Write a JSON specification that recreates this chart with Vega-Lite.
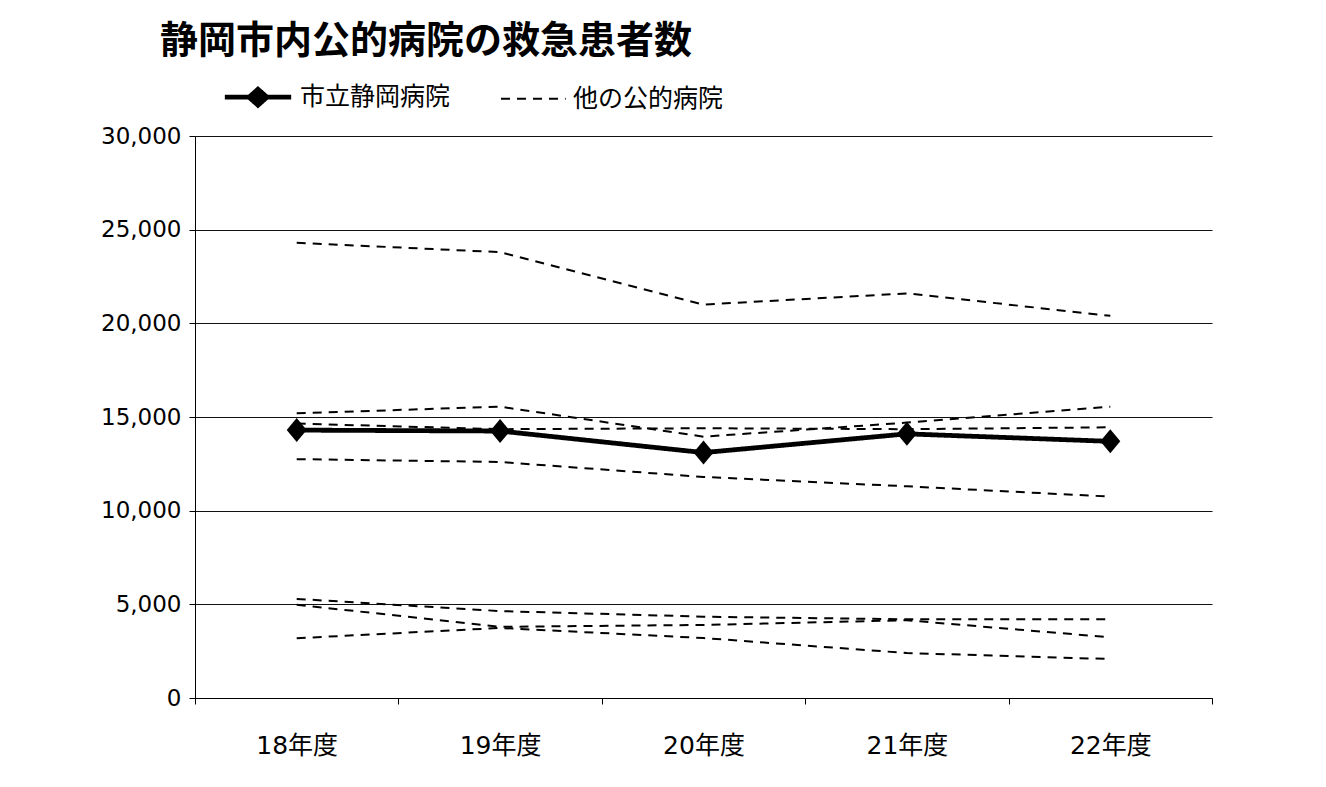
{
  "$schema": "https://vega.github.io/schema/vega-lite/v6.json",
  "width": 1017,
  "height": 562,
  "autosize": "none",
  "padding": {"left": 195, "top": 136, "right": 114, "bottom": 89},
  "background": "white",
  "title": {
    "text": "静岡市内公的病院の救急患者数",
    "anchor": "start",
    "frame": "group",
    "dx": -35,
    "offset": 0,
    "font": "Noto Sans CJK JP",
    "fontSize": 38,
    "fontWeight": "bold",
    "color": "black"
  },
  "config": {
    "view": {"stroke": null},
    "axis": {"labelColor": "black", "domainColor": "black", "tickColor": "black"}
  },
  "data": {
    "values": [
      {"year": "18年度", "hospital": "市立静岡病院", "type": "市立静岡病院", "value": 14300},
      {"year": "19年度", "hospital": "市立静岡病院", "type": "市立静岡病院", "value": 14250},
      {"year": "20年度", "hospital": "市立静岡病院", "type": "市立静岡病院", "value": 13100},
      {"year": "21年度", "hospital": "市立静岡病院", "type": "市立静岡病院", "value": 14100},
      {"year": "22年度", "hospital": "市立静岡病院", "type": "市立静岡病院", "value": 13700},
      {"year": "18年度", "hospital": "他1", "type": "他の公的病院", "value": 24300},
      {"year": "19年度", "hospital": "他1", "type": "他の公的病院", "value": 23800},
      {"year": "20年度", "hospital": "他1", "type": "他の公的病院", "value": 21000},
      {"year": "21年度", "hospital": "他1", "type": "他の公的病院", "value": 21600},
      {"year": "22年度", "hospital": "他1", "type": "他の公的病院", "value": 20400},
      {"year": "18年度", "hospital": "他2", "type": "他の公的病院", "value": 15200},
      {"year": "19年度", "hospital": "他2", "type": "他の公的病院", "value": 15550},
      {"year": "20年度", "hospital": "他2", "type": "他の公的病院", "value": 13950},
      {"year": "21年度", "hospital": "他2", "type": "他の公的病院", "value": 14700},
      {"year": "22年度", "hospital": "他2", "type": "他の公的病院", "value": 15550},
      {"year": "18年度", "hospital": "他3", "type": "他の公的病院", "value": 14650},
      {"year": "19年度", "hospital": "他3", "type": "他の公的病院", "value": 14350},
      {"year": "20年度", "hospital": "他3", "type": "他の公的病院", "value": 14400},
      {"year": "21年度", "hospital": "他3", "type": "他の公的病院", "value": 14350},
      {"year": "22年度", "hospital": "他3", "type": "他の公的病院", "value": 14450},
      {"year": "18年度", "hospital": "他4", "type": "他の公的病院", "value": 12750},
      {"year": "19年度", "hospital": "他4", "type": "他の公的病院", "value": 12600},
      {"year": "20年度", "hospital": "他4", "type": "他の公的病院", "value": 11800},
      {"year": "21年度", "hospital": "他4", "type": "他の公的病院", "value": 11300},
      {"year": "22年度", "hospital": "他4", "type": "他の公的病院", "value": 10750},
      {"year": "18年度", "hospital": "他5", "type": "他の公的病院", "value": 5290},
      {"year": "19年度", "hospital": "他5", "type": "他の公的病院", "value": 4640},
      {"year": "20年度", "hospital": "他5", "type": "他の公的病院", "value": 4340},
      {"year": "21年度", "hospital": "他5", "type": "他の公的病院", "value": 4200},
      {"year": "22年度", "hospital": "他5", "type": "他の公的病院", "value": 4200},
      {"year": "18年度", "hospital": "他6", "type": "他の公的病院", "value": 4980},
      {"year": "19年度", "hospital": "他6", "type": "他の公的病院", "value": 3800},
      {"year": "20年度", "hospital": "他6", "type": "他の公的病院", "value": 3900},
      {"year": "21年度", "hospital": "他6", "type": "他の公的病院", "value": 4150},
      {"year": "22年度", "hospital": "他6", "type": "他の公的病院", "value": 3240},
      {"year": "18年度", "hospital": "他7", "type": "他の公的病院", "value": 3190},
      {"year": "19年度", "hospital": "他7", "type": "他の公的病院", "value": 3740},
      {"year": "20年度", "hospital": "他7", "type": "他の公的病院", "value": 3200},
      {"year": "21年度", "hospital": "他7", "type": "他の公的病院", "value": 2400},
      {"year": "22年度", "hospital": "他7", "type": "他の公的病院", "value": 2080}
    ]
  },
  "encoding": {
    "x": {
      "field": "year",
      "type": "ordinal",
      "sort": ["18年度", "19年度", "20年度", "21年度", "22年度"],
      "scale": {"type": "band", "paddingInner": 0, "paddingOuter": 0},
      "axis": {
        "title": null,
        "labelAngle": 0,
        "labelFont": "DejaVu Sans, Noto Sans CJK JP",
        "labelFontSize": 25,
        "labelPadding": 29,
        "tickBand": "extent",
        "tickSize": 6,
        "domainWidth": 1,
        "grid": false
      }
    },
    "y": {
      "field": "value",
      "type": "quantitative",
      "scale": {"domain": [0, 30000]},
      "axis": {
        "title": null,
        "values": [0, 5000, 10000, 15000, 20000, 25000, 30000],
        "format": ",d",
        "labelFont": "DejaVu Sans",
        "labelFontSize": 23,
        "labelPadding": 8,
        "tickSize": 6,
        "grid": true,
        "gridColor": "#111",
        "gridWidth": 1,
        "gridOpacity": 1,
        "domainWidth": 1
      }
    }
  },
  "layer": [
    {
      "mark": {"type": "line", "color": "black"},
      "encoding": {
        "detail": {"field": "hospital"},
        "strokeDash": {
          "field": "type",
          "type": "nominal",
          "scale": {"domain": ["市立静岡病院", "他の公的病院"], "range": [[1, 0], [9, 7]]},
          "legend": {
            "title": null,
            "orient": "none",
            "legendX": 27,
            "legendY": -75,
            "direction": "horizontal",
            "labelFont": "Noto Sans CJK JP",
            "labelFontSize": 25,
            "labelColor": "black",
            "labelOffset": 6,
            "labelLimit": 400,
            "columnPadding": 45,
            "symbolType": "stroke",
            "symbolSize": 4400,
            "symbolStrokeColor": "black",
            "symbolStrokeWidth": 2,
            "encode": {
              "symbols": {
                "update": {
                  "shape": [
                    {"test": "datum.value === '市立静岡病院'", "value": "M-1,0L1,0M0,-0.24L0.27,0L0,0.24L-0.27,0Z"},
                    {"value": "M-0.95,0L1,0"}
                  ],
                  "fill": [
                    {"test": "datum.value === '市立静岡病院'", "value": "black"},
                    {"value": "transparent"}
                  ],
                  "stroke": {"value": "black"},
                  "strokeDash": [
                    {"test": "datum.value === '市立静岡病院'", "value": []},
                    {"value": [9, 7]}
                  ],
                  "strokeWidth": [
                    {"test": "datum.value === '市立静岡病院'", "value": 4},
                    {"value": 2}
                  ],
                  "opacity": {"value": 1}
                }
              }
            }
          }
        },
        "strokeWidth": {
          "field": "type",
          "type": "nominal",
          "scale": {"domain": ["市立静岡病院", "他の公的病院"], "range": [4.8, 2]},
          "legend": null
        }
      }
    },
    {
      "transform": [{"filter": "datum.type === '市立静岡病院'"}],
      "mark": {
        "type": "point",
        "shape": "M0,-1.2L1,0L0,1.2L-1,0Z",
        "filled": true,
        "color": "black",
        "size": 400,
        "opacity": 1
      }
    }
  ]
}
